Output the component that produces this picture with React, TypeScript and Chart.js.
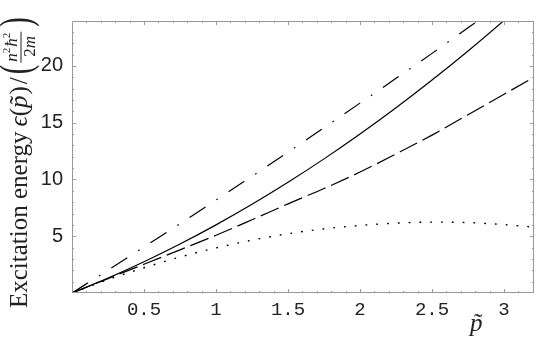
import React, { useEffect, useRef } from "react";
import { Chart, registerables } from "chart.js";

Chart.register(...registerables);

// momentum p~ sample positions
const pValues = [0, 0.25, 0.5, 0.75, 1, 1.25, 1.5, 1.75, 2, 2.25, 2.5, 2.75, 3, 3.25];
// curves
const dashDotSeries = [0, 2.01, 4.05, 6.1, 8.18, 10.28, 12.4, 14.55, 16.72, 18.9, 21.1, 23.36, 25.6, 27.9];
const solidSeries = [0, 1.31, 2.75, 4.31, 6.0, 7.81, 9.75, 11.81, 14.0, 16.31, 18.75, 21.31, 24.0, 26.8];
const dashedSeries = [0, 1.27, 2.53, 3.8, 5.08, 6.45, 7.85, 9.2, 10.65, 12.25, 13.9, 15.7, 17.5, 19.3];
const dottedSeries = [0, 1.18, 2.22, 3.17, 3.97, 4.65, 5.22, 5.65, 5.95, 6.15, 6.24, 6.2, 6.02, 5.75];

const xTicks = [0.5, 1, 1.5, 2, 2.5, 3];
const yTicks = [5, 10, 15, 20];
const xMin = 0;
const xMax = 3.208;
const yMin = 0;
const yMax = 23.95;
const xMinorStep = 0.1;
const yMinorStep = 1;

const toPoints = (ys: number[]) => pValues.map((x, i) => ({ x, y: ys[i] }));

const SERIF = '"Liberation Serif", "Times New Roman", serif';

const framePlugin = {
  id: "frameTicks",
  afterDatasetsDraw(chart: any) {
    const { ctx, chartArea: a, scales } = chart;
    ctx.save();
    ctx.strokeStyle = "#999";
    ctx.lineWidth = 1;
    ctx.beginPath();
    ctx.rect(a.left + 0.5, a.top + 0.5, a.right - a.left - 1, a.bottom - a.top - 1);
    ctx.stroke();
    ctx.beginPath();
    for (let i = 1; i * xMinorStep < xMax; i++) {
      const v = i * xMinorStep;
      const major = i % 5 === 0;
      const len = major ? 4 : 2;
      const px = Math.round(scales.x.getPixelForValue(v)) + 0.5;
      ctx.moveTo(px, a.bottom);
      ctx.lineTo(px, a.bottom - len);
      ctx.moveTo(px, a.top);
      ctx.lineTo(px, a.top + len);
    }
    for (let i = 1; i * yMinorStep < yMax; i++) {
      const v = i * yMinorStep;
      const major = i % 5 === 0;
      const len = major ? 4 : 2;
      const py = Math.round(scales.y.getPixelForValue(v)) + 0.5;
      ctx.moveTo(a.left, py);
      ctx.lineTo(a.left + len, py);
      ctx.moveTo(a.right, py);
      ctx.lineTo(a.right - len, py);
    }
    ctx.stroke();
    ctx.restore();
  },
  afterDraw(chart: any) {
    const { ctx } = chart;
    ctx.save();
    ctx.fillStyle = "#222";
    ctx.textBaseline = "alphabetic";
    ctx.textAlign = "left";

    // x-axis title: p~
    ctx.font = `italic 25px ${SERIF}`;
    const pw = ctx.measureText("p").width;
    ctx.fillText("p", 470, 331);
    ctx.font = `25px ${SERIF}`;
    const tw = ctx.measureText("\u02DC").width;
    ctx.fillText("\u02DC", 470 + pw / 2 - tw / 2 + 2, 331);

    // y-axis title (rotated)
    ctx.translate(27, 308);
    ctx.rotate(-Math.PI / 2);
    let u = 0;
    ctx.font = `25px ${SERIF}`;
    const main = "Excitation energy";
    ctx.fillText(main, u, 0);
    u += ctx.measureText(main).width + 5;
    ctx.font = `italic 25px ${SERIF}`;
    ctx.fillText("\u03F5", u, 0);
    u += ctx.measureText("\u03F5").width;
    ctx.font = `25px ${SERIF}`;
    ctx.fillText("(", u, 0);
    u += ctx.measureText("(").width;
    ctx.font = `italic 25px ${SERIF}`;
    const pw2 = ctx.measureText("p").width;
    ctx.fillText("p", u, 0);
    ctx.font = `25px ${SERIF}`;
    const tw2 = ctx.measureText("\u02DC").width;
    ctx.fillText("\u02DC", u + pw2 / 2 - tw2 / 2 + 2, 0);
    u += pw2 + 1;
    ctx.fillText(")", u, 0);
    u += ctx.measureText(")").width + 2;
    ctx.fillText("/", u, 0);
    u += ctx.measureText("/").width + 3;

    // big parenthesis
    ctx.font = `44px ${SERIF}`;
    ctx.save();
    ctx.translate(u, 3);
    ctx.scale(0.65, 1);
    ctx.fillText("(", 0, 0);
    ctx.restore();
    u += ctx.measureText("(").width * 0.65 + 3;

    // fraction n^2 hbar^2 / 2m
    const numStart = u;
    ctx.font = `italic 17px ${SERIF}`;
    let nu = numStart;
    ctx.fillText("n", nu, -10);
    nu += ctx.measureText("n").width;
    ctx.font = `11px ${SERIF}`;
    ctx.fillText("2", nu, -17);
    nu += ctx.measureText("2").width + 1;
    ctx.font = `italic 17px ${SERIF}`;
    ctx.fillText("\u0127", nu, -10);
    nu += ctx.measureText("\u0127").width;
    ctx.font = `11px ${SERIF}`;
    ctx.fillText("2", nu, -17);
    nu += ctx.measureText("2").width;
    const numW = nu - numStart;

    ctx.font = `17px ${SERIF}`;
    const w2 = ctx.measureText("2").width;
    ctx.font = `italic 17px ${SERIF}`;
    const wm = ctx.measureText("m").width;
    const denW = w2 + wm;
    const fracW = Math.max(numW, denW) + 2;
    const dStart = numStart + (fracW - denW) / 2;
    ctx.font = `17px ${SERIF}`;
    ctx.fillText("2", dStart, 8);
    ctx.font = `italic 17px ${SERIF}`;
    ctx.fillText("m", dStart + w2, 8);
    ctx.fillRect(numStart - 1, -6.5, fracW, 1);
    u = numStart + fracW + 4;

    ctx.font = `44px ${SERIF}`;
    ctx.save();
    ctx.translate(u, 3);
    ctx.scale(0.65, 1);
    ctx.fillText(")", 0, 0);
    ctx.restore();

    ctx.restore();
  },
};

export default function App() {
  const canvasRef = useRef<HTMLCanvasElement | null>(null);

  useEffect(() => {
    const canvas = canvasRef.current;
    if (!canvas) return;
    const lineBase = {
      borderColor: "#000",
      borderWidth: 1.2,
      pointRadius: 0,
      fill: false,
      cubicInterpolationMode: "monotone" as const,
      clip: 0,
    };
    const chart = new Chart(canvas, {
      type: "line",
      data: {
        datasets: [
          { ...lineBase, label: "dash-dot", data: toPoints(dashDotSeries), borderDash: [19, 13, 1.6, 13] },
          { ...lineBase, label: "solid", data: toPoints(solidSeries) },
          { ...lineBase, label: "dashed", data: toPoints(dashedSeries), borderDash: [19.5, 6] },
          { ...lineBase, label: "dotted", data: toPoints(dottedSeries), borderDash: [1.8, 9], borderWidth: 1.4 },
        ],
      },
      options: {
        responsive: false,
        animation: false,
        events: [],
        layout: { padding: { left: 0, top: 7, right: 11, bottom: 0 } },
        plugins: {
          legend: { display: false },
          tooltip: { enabled: false },
          title: { display: false },
        },
        scales: {
          x: {
            type: "linear",
            min: xMin,
            max: xMax,
            grid: { display: false, drawTicks: false, tickLength: 0 },
            border: { display: false },
            afterFit: (s: any) => {
              s.height = 44;
            },
            afterBuildTicks: (s: any) => {
              s.ticks = xTicks.map((v) => ({ value: v }));
            },
            ticks: {
              autoSkip: false,
              maxRotation: 0,
              padding: 6,
              color: "#222",
              font: { family: '"Liberation Mono", "Courier New", monospace', size: 19 },
              callback: (v: any) => String(v),
            },
          },
          y: {
            type: "linear",
            min: yMin,
            max: yMax,
            grid: { display: false, drawTicks: false, tickLength: 0 },
            border: { display: false },
            afterFit: (s: any) => {
              s.width = 72;
            },
            afterBuildTicks: (s: any) => {
              s.ticks = yTicks.map((v) => ({ value: v }));
            },
            ticks: {
              autoSkip: false,
              padding: 9,
              color: "#222",
              font: { family: '"Liberation Sans", Arial, sans-serif', size: 20 },
              callback: (v: any) => String(v),
            },
          },
        },
      },
      plugins: [framePlugin],
    });
    return () => chart.destroy();
  }, []);

  return (
    <div style={{ position: "fixed", left: 0, top: 0, width: 545, height: 337, background: "#fff" }}>
      <canvas ref={canvasRef} width={545} height={337} style={{ display: "block" }} />
    </div>
  );
}
